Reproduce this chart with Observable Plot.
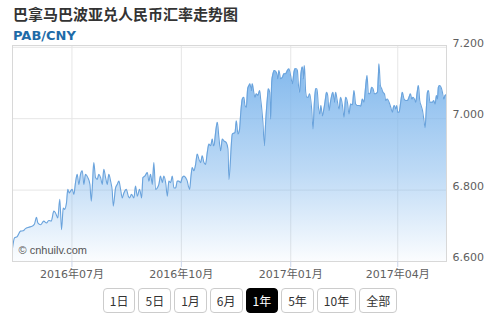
<!DOCTYPE html>
<html><head><meta charset="utf-8">
<script src="https://cdn.jsdelivr.net/npm/d3@7"></script>
<script src="https://cdn.jsdelivr.net/npm/@observablehq/plot@0.6"></script>
<style>
body{margin:0;background:#fff;width:500px;height:320px;overflow:hidden;position:relative;font-family:"DejaVu Sans","Noto Sans CJK SC",sans-serif}
#title{position:absolute;left:13px;top:3px;font-weight:bold;font-size:15px;font-family:"Noto Sans CJK SC",sans-serif;color:#333;white-space:nowrap}
#subtitle{position:absolute;left:13px;top:28px;font-weight:bold;font-size:13px;font-family:"DejaVu Sans",sans-serif;color:#1e6ba8}
#chart{position:absolute;left:0;top:40px}
#buttons{position:absolute;left:0;top:288px;width:500px;display:flex;justify-content:center;gap:3px}
#buttons span{box-sizing:border-box;height:25px;line-height:23px;padding:0 6px;border:1px solid #ccc;border-radius:4px;font-size:12px;font-family:"Noto Sans CJK SC",sans-serif;color:#333;background:#fff}
#buttons span.active{background:#000;color:#fff;border-color:#000}
</style></head>
<body>
<div id="title"></div>
<div id="subtitle"></div>
<div id="chart"></div>
<div id="buttons"></div>
<script>
const titleText = "巴拿马巴波亚兑人民币汇率走势图";
const pairText = "PAB/CNY";
const watermark = "© cnhuilv.com";
const rangeButtons = ["1日","5日","1月","6月","1年","5年","10年","全部"];
const activeButton = "1年";

// days since 2016-05-12
const dayOffsets = [
0,1.7,4.0,6.7,9.0,10.9,13.7,16.6,18.5,20.2,21.3,23.6,26.3,28.6,30.5,32.6,34.8,36.2,38.1,39.8,41.2,42.7,43.8,45.4,46.5,47.7,48.8,50.2,51.6,53.0,54.4,55.8,57.2,58.7,60.0,61.4,63.4,65.1,66.2,67.1,68.4,69.8,71.3,72.6,74.1,75.5,76.8,78.3,79.7,81.0,82.5,83.9,84.7,
86.7,88.1,89.5,90.9,92.3,93.7,95.7,97.4,98.5,100.1,102.1,103.5,104.9,106.9,108.6,109.7,111.3,113.4,114.7,116.1,117.6,118.9,120.3,121.8,123.1,124.5,126.0,127.3,128.8,130.2,131.5,133.0,134.4,135.7,137.2,138.6,139.9,141.4,142.8,144.2,145.6,147.0,147.9,149.0,150.0,151.2,152.6,154.0,155.4,156.8,158.2,159.6,161.0,162.4,163.8,165.2,166.6,168.1,168.9,169.7,170.8,172.3,173.6,175.0,176.5,177.8,179.8,181.2,182.0,
184.9,187.1,188.3,189.6,191.0,191.9,193.3,194.6,195.5,196.7,197.8,198.9,199.7,200.9,201.7,203.1,203.9,205.1,206.4,207.9,208.7,209.5,210.6,211.8,212.9,214.3,215.2,216.3,217.1,218.0,219.1,220.2,221.9,223.0,224.1,225.5,227.0,228.3,229.7,231.2,232.5,233.9,235.4,236.7,237.6,238.7,239.6,240.4,241.5,242.6,243.8,244.6,245.5,246.6,247.7,248.8,249.9,251.6,252.7,253.9,255.0,256.1,257.3,258.4,259.4,260.6,261.7,262.8,264.2,265.1,266.2,267.4,268.5,269.5,270.7,271.8,272.9,
274.6,276.0,277.5,278.8,280.2,281.7,283.0,284.4,285.9,287.2,288.6,290.1,291.4,292.9,294.3,295.6,297.1,298.2,299.3,300.7,302.1,303.2,304.4,305.5,306.9,307.7,308.2,309.4,310.5,311.6,312.8,313.9,315.3,316.7,318.1,319.5,320.4,321.2,322.3,323.2,324.0,325.1,326.5,327.9,329.3,330.7,332.2,333.5,334.7,335.8,336.9,338.0,339.1,340.2,341.4,342.5,343.6,344.8,345.9,347.0,348.2,349.0,349.9,351.0,352.1,353.2,354.3,355.4,356.6,357.4,358.2,359.3,360.4,361.6,362.7,363.8,365.0
];
const rates = [
6.637,6.666,6.670,6.685,6.686,6.692,6.696,6.699,6.705,6.724,6.708,6.703,6.713,6.708,6.715,6.713,6.741,6.736,6.722,6.774,6.689,6.750,6.746,6.764,6.802,6.792,6.797,6.802,6.788,6.821,6.844,6.816,6.844,6.854,6.816,6.844,6.835,6.816,6.769,6.806,6.877,6.835,6.830,6.844,6.835,6.816,6.858,6.835,6.816,6.844,6.825,6.797,6.755,
6.806,6.816,6.825,6.802,6.778,6.792,6.802,6.783,6.778,6.788,6.778,6.811,6.783,6.802,6.778,6.835,6.839,6.849,6.825,6.844,6.816,6.877,6.802,6.806,6.816,6.839,6.821,6.839,6.821,6.783,6.825,6.821,6.839,6.806,6.806,6.825,6.825,6.821,6.835,6.839,6.835,6.825,6.811,6.802,6.835,6.863,6.854,6.872,6.901,6.886,6.877,6.896,6.877,6.872,6.905,6.929,6.924,6.943,6.924,6.929,6.961,6.990,6.947,6.910,6.943,6.938,6.933,6.915,6.830,
6.957,6.961,6.994,6.957,6.971,7.013,7.055,7.060,7.037,7.032,7.084,7.093,7.098,7.079,7.098,7.070,7.060,7.070,7.065,7.079,7.055,7.032,6.990,6.924,6.990,7.055,7.084,7.074,6.999,7.102,7.126,7.135,7.130,7.112,7.135,7.112,7.116,7.126,7.126,7.135,7.140,7.121,7.098,7.130,7.140,7.140,7.135,7.098,7.074,7.126,7.145,7.112,7.149,7.074,7.060,7.060,7.070,7.027,6.971,7.046,7.084,7.084,7.032,7.013,7.037,7.008,7.023,7.046,7.074,7.065,7.023,7.046,7.065,7.074,7.046,7.074,7.055,
7.027,7.060,7.037,7.004,7.060,7.046,7.013,7.041,7.039,7.079,7.041,7.037,7.037,7.035,7.055,7.046,7.093,7.121,7.070,7.070,7.088,7.084,7.070,7.070,7.074,7.121,7.154,7.093,7.084,7.074,7.070,7.051,7.055,7.046,7.032,7.018,7.032,7.037,7.027,7.037,7.018,7.018,7.046,7.074,7.055,7.051,7.051,7.060,7.070,7.055,7.060,7.055,7.046,7.070,7.093,7.051,7.037,7.023,6.999,6.975,7.037,7.074,7.079,7.046,7.046,7.046,7.051,7.041,7.065,7.055,7.088,7.093,7.088,7.074,7.055,7.065,7.067
];
const startDate = "2016-05-12";
const endDate = "2017-05-12";
const xTickDates = ["2016-07-01","2016-10-01","2017-01-01","2017-04-01"];
const xTickLabels = ["2016年07月","2016年10月","2017年01月","2017年04月"];
const yTicks = [6.6, 6.8, 7.0, 7.2];
const yDomain = [6.6, 7.205];

document.getElementById("title").textContent = titleText;
document.getElementById("subtitle").textContent = pairText;
const btns = document.getElementById("buttons");
rangeButtons.forEach(b => {
  const s = document.createElement("span");
  s.textContent = b;
  if (b === activeButton) s.className = "active";
  btns.appendChild(s);
});

const t0 = new Date(startDate + "T00:00:00Z").getTime();
const data = dayOffsets.map((d, i) => ({date: new Date(t0 + d * 864e5), rate: rates[i]}));
const xTicks = xTickDates.map(s => new Date(s + "T00:00:00Z"));

const defs = () => {
  const ns = "http://www.w3.org/2000/svg";
  const g = document.createElementNS(ns, "defs");
  const lg = document.createElementNS(ns, "linearGradient");
  lg.setAttribute("id", "areaGrad");
  lg.setAttribute("x1", "0"); lg.setAttribute("y1", "0");
  lg.setAttribute("x2", "0"); lg.setAttribute("y2", "1");
  [["0", "#7cb5ec", "0.95"], ["0.55", "#7cb5ec", "0.5"], ["1", "#7cb5ec", "0.03"]].forEach(([o, c, op]) => {
    const st = document.createElementNS(ns, "stop");
    st.setAttribute("offset", o); st.setAttribute("stop-color", c); st.setAttribute("stop-opacity", op);
    lg.appendChild(st);
  });
  g.appendChild(lg);
  return g;
};

const chart = Plot.plot({
  width: 500,
  height: 245,
  marginLeft: 12,
  marginRight: 54,
  marginTop: 5,
  marginBottom: 24,
  style: {fontFamily: '"DejaVu Sans","Noto Sans CJK SC",sans-serif', fontSize: "11px", background: "transparent", overflow: "visible"},
  x: {type: "utc", domain: [new Date(startDate + "T00:00:00Z"), new Date(endDate + "T00:00:00Z")]},
  y: {domain: yDomain},
  marks: [
    defs,
    Plot.gridY(yTicks, {stroke: "#e6e6e6", strokeOpacity: 1}),
    Plot.gridX(xTicks, {stroke: "#e6e6e6", strokeOpacity: 1}),
    Plot.areaY(data, {x: "date", y1: 6.6, y2: "rate", fill: "url(#areaGrad)", curve: "monotone-x"}),
    Plot.lineY(data, {x: "date", y: "rate", stroke: "#6aa3dc", strokeWidth: 1.1, curve: "monotone-x"}),
    Plot.frame({stroke: "#d8d8d8"}),
    Plot.axisY(yTicks, {anchor: "right", tickSize: 0, tickPadding: 6, dy: -4, tickFormat: d3.format(".3f"), fill: "#606060", fontSize: 11, label: null}),
    Plot.axisX(xTicks, {anchor: "bottom", tickSize: 6, tickPadding: 3, stroke: "#ccd6eb", fill: "#606060", fontSize: 11, tickFormat: (d, i) => xTickLabels[i], label: null}),
    Plot.text([watermark], {frameAnchor: "bottom-left", dx: 6, dy: -11, textAnchor: "start", lineAnchor: "middle", fontSize: 11, fontFamily: '"Liberation Sans",Arial,sans-serif', fill: "#555"})
  ]
});
document.getElementById("chart").appendChild(chart);
</script>
</body></html>
